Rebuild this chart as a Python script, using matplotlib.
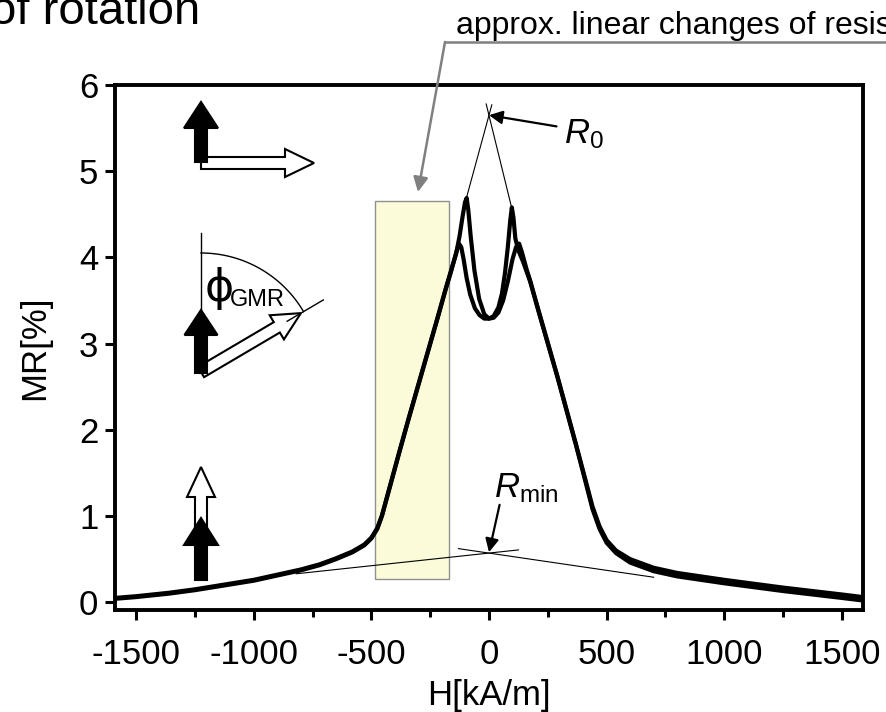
import numpy as np
import matplotlib
matplotlib.use("Agg")
import matplotlib.pyplot as plt
from matplotlib.patches import FancyArrow, Rectangle

plt.rcParams['font.family'] = ['Liberation Sans', 'DejaVu Sans']
plt.rcParams['mathtext.fontset'] = 'custom'
plt.rcParams['mathtext.rm'] = 'Liberation Sans'
plt.rcParams['mathtext.it'] = 'Liberation Sans:italic'
plt.rcParams['axes.unicode_minus'] = False

# branch measured with increasing field
H_up = [-1590, -1500, -1360, -1250, -1000, -900, -800, -720, -650, -580,
        -530, -500, -475, -455, -435, -410, -380, -340, -300, -260,
        -220, -185, -160, -140, -128, -118, -108, -95, -80, -60,
        -40, -20, 0, 20, 40, 55, 68, 80, 90, 97,
        104, 112, 125, 145, 175, 210, 250, 290, 330, 370,
        410, 440, 470, 500, 540, 600, 700, 800, 900, 1000,
        1250, 1500, 1590]
MR_up = [0.04, 0.06, 0.10, 0.14, 0.25, 0.31, 0.37, 0.43, 0.50, 0.58,
         0.66, 0.74, 0.85, 1.00, 1.20, 1.45, 1.75, 2.14, 2.52, 2.90,
         3.28, 3.62, 3.85, 4.05, 4.16, 4.12, 3.98, 3.76, 3.57, 3.41,
         3.33, 3.29, 3.29, 3.32, 3.42, 3.58, 3.82, 4.12, 4.42, 4.58,
         4.46, 4.22, 4.08, 3.95, 3.72, 3.38, 3.00, 2.62, 2.22, 1.82,
         1.40, 1.08, 0.85, 0.69, 0.57, 0.46, 0.36, 0.30, 0.26, 0.22,
         0.13, 0.05, 0.02]

# branch measured with decreasing field (listed left to right)
H_dn = [-1590, -1500, -1360, -1250, -1000, -900, -800, -720, -650, -580,
        -530, -500, -475, -455, -435, -410, -380, -340, -300, -260,
        -220, -185, -160, -140, -125, -112, -102, -95, -88, -78,
        -62, -42, -20, 0, 20, 40, 60, 80, 100, 115,
        128, 140, 160, 175, 210, 250, 290, 330, 370, 410,
        440, 470, 500, 540, 600, 700, 800, 900, 1000, 1250,
        1500, 1590]
MR_dn = [0.05, 0.07, 0.11, 0.15, 0.26, 0.32, 0.38, 0.44, 0.51, 0.59,
         0.67, 0.75, 0.86, 1.01, 1.21, 1.46, 1.76, 2.15, 2.53, 2.91,
         3.29, 3.63, 3.86, 4.04, 4.25, 4.48, 4.64, 4.69, 4.55, 4.25,
         3.85, 3.52, 3.34, 3.29, 3.30, 3.36, 3.50, 3.72, 3.98, 4.12,
         4.16, 4.06, 3.86, 3.73, 3.39, 3.01, 2.63, 2.23, 1.83, 1.42,
         1.11, 0.88, 0.72, 0.60, 0.50, 0.40, 0.34, 0.30, 0.26, 0.17,
         0.09, 0.06]

# construction lines (R0 apex and Rmin crossing)
r0_left = ([-96, 12], [4.69, 5.77])
r0_right = ([96, -12], [4.58, 5.78])
rmin_left = ([-820, 125], [0.33, 0.607])
rmin_right = ([700, -130], [0.29, 0.622])
R0_point = (0, 5.65)
Rmin_point = (0, 0.58)

# linear region highlighted
lin_H = (-483, -168)
lin_MR = (0.27, 4.65)

x_ticks = [-1500, -1000, -500, 0, 500, 1000, 1500]
y_ticks = [0, 1, 2, 3, 4, 5, 6]

fig = plt.figure(figsize=(8.87, 7.12), dpi=100)
ax = fig.add_axes([115 / 887, 1 - 610 / 712, (863 - 115) / 887, (610 - 85) / 712])

ax.add_patch(Rectangle((lin_H[0], lin_MR[0]), lin_H[1] - lin_H[0], lin_MR[1] - lin_MR[0],
                       facecolor='#fbfbd9', edgecolor='#909090', lw=1, zorder=1))

ax.plot(H_up, MR_up, color='black', lw=3, solid_capstyle='round', zorder=3)
ax.plot(H_dn, MR_dn, color='black', lw=3, solid_capstyle='round', zorder=3)

for xs, ys in (r0_left, r0_right, rmin_left, rmin_right):
    ax.plot(xs, ys, color='black', lw=0.8, zorder=2)

ax.annotate('', xy=R0_point, xytext=(287, 5.52),
            arrowprops=dict(arrowstyle='-|>', color='black', lw=1.6,
                            mutation_scale=20, shrinkA=0, shrinkB=0))
ax.text(318, 5.32, r'$R_{\mathrm{0}}$', fontsize=25, va='baseline', ha='left')
ax.annotate('', xy=Rmin_point, xytext=(45, 1.13),
            arrowprops=dict(arrowstyle='-|>', color='black', lw=1.6,
                            mutation_scale=20, shrinkA=0, shrinkB=0))
ax.text(22, 1.22, r'$R_{\mathrm{min}}$', fontsize=25, va='baseline', ha='left')

ax.set_xlim(-1590, 1590)
ax.set_ylim(-0.09, 6.0)
ax.set_xticks(x_ticks)
ax.set_xticks(np.arange(-1250, 1500, 500), minor=True)
ax.set_yticks(y_ticks)
ax.tick_params(axis='both', which='major', direction='out', length=7, width=2.2,
               labelsize=25, pad=5)
ax.tick_params(axis='x', which='major', pad=13)
ax.tick_params(axis='x', which='minor', direction='out', length=5, width=2.2)
for s in ax.spines.values():
    s.set_linewidth(2.8)
ax.set_xlabel('H[kA/m]', fontsize=25, labelpad=6)
ax.set_ylabel('MR[%]', fontsize=25, labelpad=20)

# overlay in image pixel coordinates for sketches and callouts
ov = fig.add_axes([0, 0, 1, 1], zorder=5)
ov.set_xlim(0, 887)
ov.set_ylim(712, 0)
ov.axis('off')
ov.patch.set_alpha(0)

def arrow(x, y, dx, dy, fill, hw=30, hl=27):
    ov.add_patch(FancyArrow(x, y, dx, dy, width=12, head_width=hw, head_length=hl,
                            length_includes_head=True, facecolor=fill,
                            edgecolor='black', lw=1.5, joinstyle='miter'))

# parallel-perpendicular sketch
arrow(201, 163, 113, 0, 'white', hw=28, hl=29)
arrow(201, 162, 0, -60, 'black', hw=34, hl=26)

# angle sketch
cx, cy, r = 201, 372, 119
th = np.radians(np.linspace(30.5, 90, 60))
ov.plot(cx + r * np.cos(th), cy - r * np.sin(th), color='black', lw=1)
ov.plot([201, 201], [233, 310], color='black', lw=1)
a = np.radians(30.5)
ov.plot([cx + 100 * np.cos(a), cx + 142 * np.cos(a)],
        [cy - 100 * np.sin(a), cy - 142 * np.sin(a)], color='black', lw=1)
arrow(cx, cy, 116 * np.cos(a), -116 * np.sin(a), 'white', hw=28, hl=28)
arrow(201, 373, 0, -63, 'black', hw=33, hl=25)
ov.text(219, 288, '\u03d5', fontsize=32, family='DejaVu Sans', ha='center', va='center')
ov.text(230, 306, 'GMR', fontsize=17, ha='left', va='baseline')

# antiparallel sketch
arrow(201, 545, 0, -78, 'white', hw=28, hl=30)
arrow(201, 580, 0, -62, 'black', hw=34, hl=27)

# callout
ov.plot([445, 890], [42, 42], color='#808080', lw=1.8, clip_on=False)
ov.annotate('', xy=(418, 192), xytext=(445, 42),
            arrowprops=dict(arrowstyle='-|>', color='#808080', lw=1.8,
                            mutation_scale=22, shrinkA=0, shrinkB=0))
ov.text(456, 34, 'approx. linear changes of resistance', fontsize=23, va='baseline')
ov.text(200, 24, 'of rotation', fontsize=34, ha='right', va='baseline')

fig.savefig('out.png', dpi=100)
